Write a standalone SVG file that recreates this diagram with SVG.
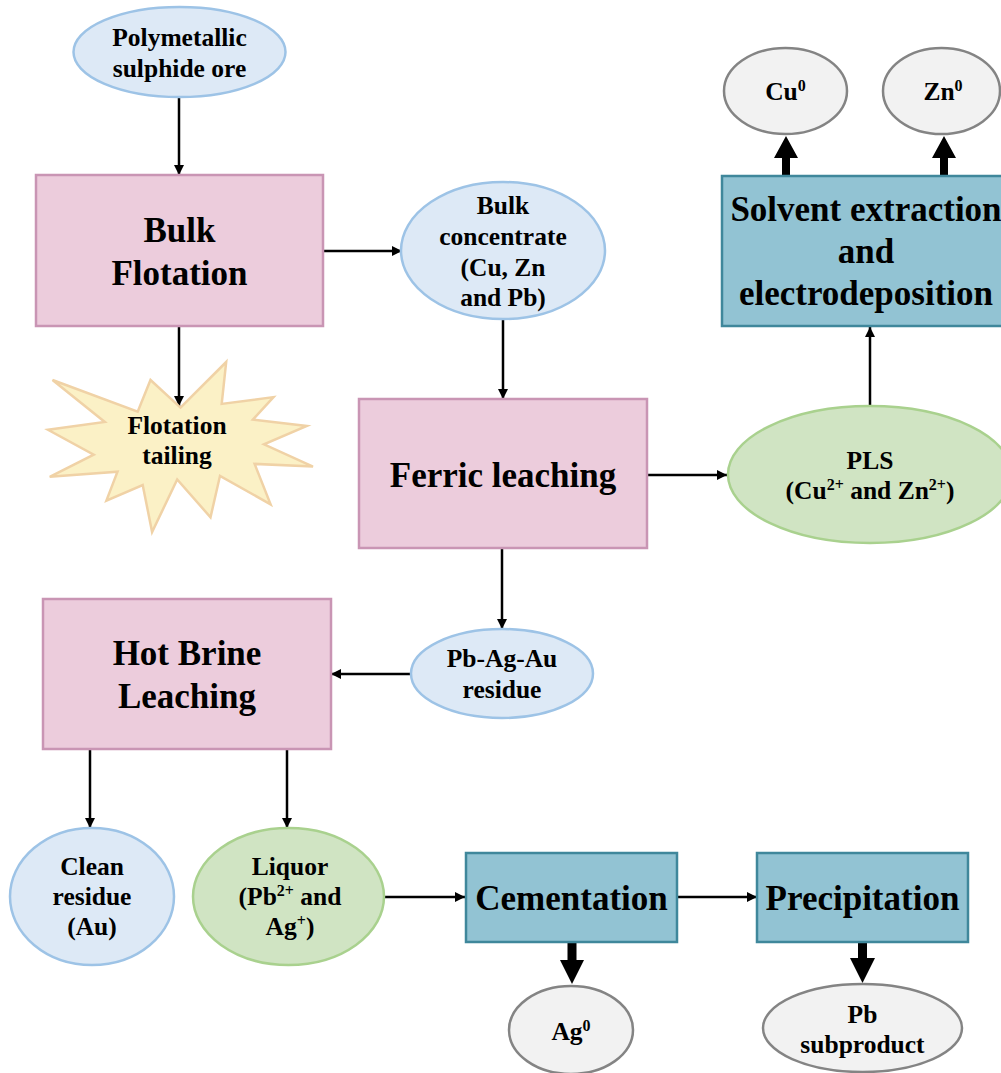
<svg xmlns="http://www.w3.org/2000/svg" width="1001" height="1073" viewBox="0 0 1001 1073">
<style>
text{font-family:"Liberation Serif","Times New Roman",serif;font-weight:bold;fill:#000;text-anchor:middle}
.big{font-size:35px}
.lab{font-size:25.5px}
.sup{font-size:16px}
.pink{fill:#ECCCDC;stroke:#C995B4;stroke-width:2.5}
.teal{fill:#92C3D3;stroke:#3F879B;stroke-width:2.5}
.blue{fill:#DDE9F6;stroke:#9DC3E6;stroke-width:2.5}
.green{fill:#D0E4C3;stroke:#A9D18E;stroke-width:2.5}
.gray{fill:#F2F2F2;stroke:#848484;stroke-width:2.5}
.star{fill:#FBF1C6;stroke:#F0D2A6;stroke-width:2.5}
.ln{stroke:#000;stroke-width:2.5;fill:none;marker-end:url(#ah)}
.thick{fill:#000}
</style>
<defs>
<marker id="ah" markerUnits="userSpaceOnUse" markerWidth="10" markerHeight="10" refX="10" refY="5" orient="auto">
<path d="M0,0 L10,5 L0,10 Z" fill="#000"/>
</marker>
</defs>

<g id="connectors">
<line class="ln" x1="179" y1="97" x2="179" y2="175"/>
<line class="ln" x1="323" y1="251" x2="402" y2="251"/>
<line class="ln" x1="503" y1="319" x2="503" y2="399"/>
<line class="ln" x1="179" y1="326" x2="179" y2="406"/>
<line class="ln" x1="647" y1="475" x2="727" y2="475"/>
<line class="ln" x1="870" y1="406" x2="870" y2="327"/>
<line class="ln" x1="502" y1="548" x2="502" y2="629"/>
<line class="ln" x1="411" y1="674" x2="331" y2="674"/>
<line class="ln" x1="90" y1="749" x2="90" y2="828"/>
<line class="ln" x1="287" y1="749" x2="287" y2="828"/>
<line class="ln" x1="384" y1="897" x2="465" y2="897"/>
<line class="ln" x1="677" y1="897" x2="757" y2="897"/>
<polygon class="thick" points="782,176 790,176 790,158 798,158 786,136 774,158 782,158"/>
<polygon class="thick" points="940,176 948,176 948,158 956,158 944,136 932,158 940,158"/>
<polygon class="thick" points="567.5,942 576.5,942 576.5,960 584,960 572,984 560,960 567.5,960"/>
<polygon class="thick" points="858,942 867,942 867,958 875,958 862.5,983 850,958 858,958"/>
</g>

<g id="ore">
<ellipse class="blue" cx="179.5" cy="52" rx="106" ry="45"/>
<text class="lab" x="179.5" y="46">Polymetallic</text>
<text class="lab" x="179.5" y="77">sulphide ore</text>
</g>

<g id="bulk-flotation">
<rect class="pink" x="36" y="175" width="287" height="151"/>
<text class="big" x="179.5" y="242">Bulk</text>
<text class="big" x="179.5" y="285">Flotation</text>
</g>

<g id="bulk-concentrate">
<ellipse class="blue" cx="503" cy="250.5" rx="102" ry="68.5"/>
<text class="lab" x="503" y="214">Bulk</text>
<text class="lab" x="503" y="245">concentrate</text>
<text class="lab" x="503" y="276">(Cu, Zn</text>
<text class="lab" x="503" y="306">and Pb)</text>
</g>

<g id="flotation-tailing">
<path class="star" d="M180.5,407.6 L226.2,362 L221.7,403.9 L273.5,397.1 L252.9,419.6 L306.8,426 L264,444.4 L313,466.6 L254.6,463.9 L270.6,504.4 L220,475.8 L210.5,517.3 L177.2,479.5 L152.1,532 L142.7,485 L106.4,500.6 L117.5,471.7 L49.7,476.8 L93.7,454.7 L48,429.8 L104.8,422 L52.5,380 L137.7,411.7 L150.5,380 Z"/>
<text class="lab" x="177" y="434">Flotation</text>
<text class="lab" x="177" y="464">tailing</text>
</g>

<g id="ferric-leaching">
<rect class="pink" x="359" y="399" width="288" height="149"/>
<text class="big" x="503" y="487">Ferric leaching</text>
</g>

<g id="pls">
<ellipse class="green" cx="870" cy="474.5" rx="142" ry="68.5"/>
<text class="lab" x="870" y="469">PLS</text>
<text class="lab" x="870" y="499">(Cu<tspan class="sup" dy="-9">2+</tspan><tspan dy="9"> and Zn</tspan><tspan class="sup" dy="-9">2+</tspan><tspan dy="9">)</tspan></text>
</g>

<g id="solvent-extraction">
<rect class="teal" x="722" y="176" width="288" height="150"/>
<text class="big" x="866" y="221">Solvent extraction</text>
<text class="big" x="866" y="263">and</text>
<text class="big" x="866" y="305">electrodeposition</text>
</g>

<g id="cu0">
<ellipse class="gray" cx="785.5" cy="91" rx="61.5" ry="43"/>
<text class="lab" x="785.5" y="100">Cu<tspan class="sup" dy="-9">0</tspan></text>
</g>

<g id="zn0">
<ellipse class="gray" cx="941.5" cy="91" rx="58.5" ry="43"/>
<text class="lab" x="943" y="100">Zn<tspan class="sup" dy="-9">0</tspan></text>
</g>

<g id="pb-ag-au-residue">
<ellipse class="blue" cx="502" cy="673.5" rx="91" ry="44.5"/>
<text class="lab" x="502" y="667">Pb-Ag-Au</text>
<text class="lab" x="502" y="698">residue</text>
</g>

<g id="hot-brine-leaching">
<rect class="pink" x="43" y="599" width="288" height="150"/>
<text class="big" x="187" y="665">Hot Brine</text>
<text class="big" x="187" y="708">Leaching</text>
</g>

<g id="clean-residue">
<ellipse class="blue" cx="92" cy="896.5" rx="82" ry="68.5"/>
<text class="lab" x="92" y="875">Clean</text>
<text class="lab" x="92" y="905">residue</text>
<text class="lab" x="92" y="935">(Au)</text>
</g>

<g id="liquor">
<ellipse class="green" cx="288.5" cy="896.5" rx="95.5" ry="68.5"/>
<text class="lab" x="290" y="875">Liquor</text>
<text class="lab" x="290" y="905">(Pb<tspan class="sup" dy="-9">2+</tspan><tspan dy="9"> and</tspan></text>
<text class="lab" x="290" y="935">Ag<tspan class="sup" dy="-9">+</tspan><tspan dy="9">)</tspan></text>
</g>

<g id="cementation">
<rect class="teal" x="466" y="853" width="211" height="89"/>
<text class="big" x="571.5" y="910">Cementation</text>
</g>

<g id="precipitation">
<rect class="teal" x="757" y="853" width="211" height="89"/>
<text class="big" x="862.5" y="910">Precipitation</text>
</g>

<g id="ag0">
<ellipse class="gray" cx="571" cy="1030" rx="62" ry="44"/>
<text class="lab" x="571" y="1040">Ag<tspan class="sup" dy="-9">0</tspan></text>
</g>

<g id="pb-subproduct">
<ellipse class="gray" cx="862.5" cy="1028" rx="99.5" ry="44"/>
<text class="lab" x="862.5" y="1023">Pb</text>
<text class="lab" x="862.5" y="1053">subproduct</text>
</g>
</svg>
